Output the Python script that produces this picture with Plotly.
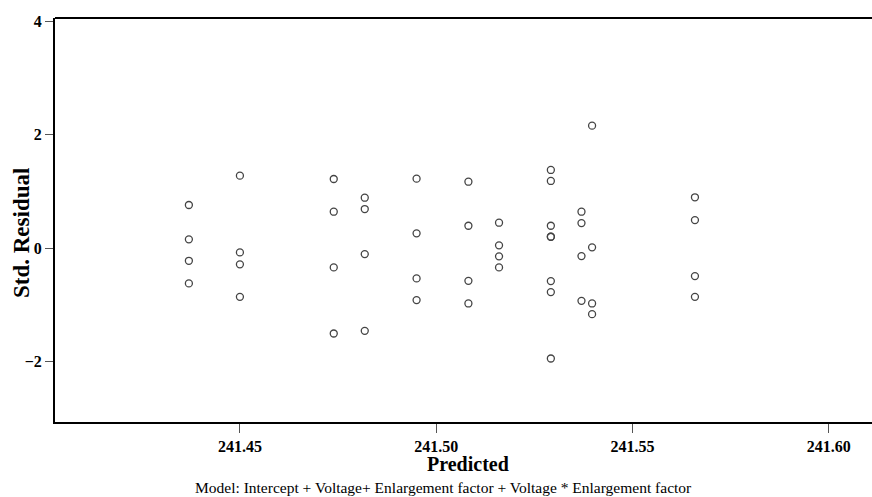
import plotly.graph_objects as go

# Predicted values (x) and standardized residuals (y)
predicted = (
    [241.4370] * 4 + [241.4500] * 4 + [241.4739] * 4 + [241.4818] * 4 +
    [241.4950] * 4 + [241.5082] * 4 + [241.5160] * 4 + [241.5292] * 8 +
    [241.5370] * 4 + [241.5397] * 4 + [241.5659] * 4
)
std_residual = [
    0.764, 0.159, -0.219, -0.618,
    1.281, -0.071, -0.282, -0.854,
    1.223, 0.646, -0.335, -1.500,
    0.893, 0.693, -0.101, -1.454,
    1.228, 0.265, -0.529, -0.912,
    1.175, 0.399, -0.572, -0.971,
    0.452, 0.053, -0.141, -0.335,
    1.382, 1.188, 0.399, 0.205, 0.205, -0.577, -0.771, -1.941,
    0.646, 0.446, -0.136, -0.925,
    2.163, 0.018, -0.971, -1.159,
    0.900, 0.499, -0.489, -0.854,
]
x_ticks = [241.45, 241.50, 241.55, 241.60]
y_ticks = [-2, 0, 2, 4]

W, H = 872, 497
L, T, R, B = 55, 18, 0, 75

fig = go.Figure(go.Scatter(
    x=predicted, y=std_residual, mode="markers",
    marker=dict(symbol="circle-open", size=7, color="#444444",
                line=dict(width=1.3, color="#444444")),
    showlegend=False, hoverinfo="x+y",
))

serif = "Liberation Serif, Times New Roman, serif"
fig.update_layout(
    width=W, height=H,
    margin=dict(l=L, r=R, t=T, b=B),
    paper_bgcolor="white", plot_bgcolor="white",
    font=dict(family=serif, color="black"),
    xaxis=dict(range=[241.4029, 241.611], tickvals=x_ticks,
               ticktext=[f"{v:.2f}" for v in x_ticks],
               showgrid=False, zeroline=False,
               showline=True, linecolor="black", linewidth=2,
               ticks="outside", ticklen=9, tickwidth=1, tickcolor="#555",
               tickfont=dict(family=serif, size=16, weight="bold", color="black")),
    yaxis=dict(range=[-3.06, 4.06], tickvals=y_ticks,
               showgrid=False, zeroline=False,
               showline=True, linecolor="black", linewidth=2,
               ticks="outside", ticklen=8, tickwidth=1, tickcolor="#555",
               tickfont=dict(family=serif, size=16, weight="bold", color="black")),
)

# top border line
fig.add_shape(type="line", xref="paper", yref="paper", x0=0, x1=1, y0=1, y1=1,
              line=dict(color="black", width=2))

pw = W - L - R
ph = H - T - B
def px_x(p):
    return (p - L) / pw
def px_y(p):
    return 1 - (p - T) / ph

fig.add_annotation(text="Std. Residual", xref="paper", yref="paper",
                   x=px_x(21), y=px_y(233), textangle=-90, showarrow=False,
                   xanchor="center", yanchor="middle",
                   font=dict(family=serif, size=23, weight="bold", color="black"))
fig.add_annotation(text="Predicted", xref="paper", yref="paper",
                   x=px_x(468), y=px_y(464), showarrow=False,
                   xanchor="center", yanchor="middle",
                   font=dict(family=serif, size=20, weight="bold", color="black"))
fig.add_annotation(text="Model: Intercept + Voltage+ Enlargement factor + Voltage * Enlargement factor",
                   xref="paper", yref="paper",
                   x=px_x(443), y=px_y(488), showarrow=False,
                   xanchor="center", yanchor="middle",
                   font=dict(family=serif, size=15.5, color="black"))

fig.write_html("out.html", config={"displayModeBar": False},
               post_script="document.body.style.margin='0';document.body.style.overflow='hidden';")
